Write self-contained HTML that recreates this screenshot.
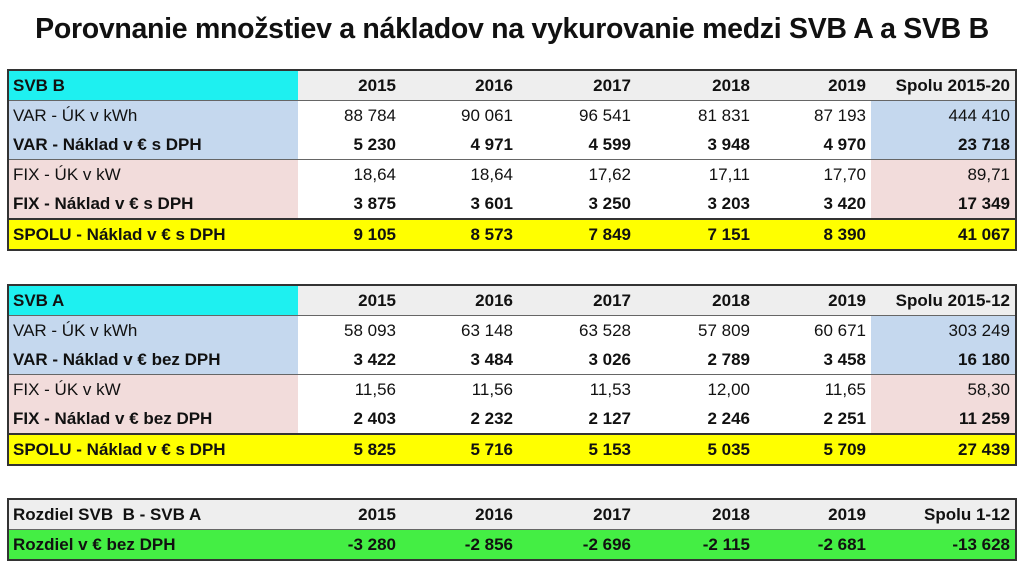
<!DOCTYPE html>
<html><head><meta charset="utf-8"><style>
body{margin:0;width:1024px;height:567px;background:#fff;font-family:"Liberation Sans",sans-serif;position:relative;overflow:hidden}
h1{position:absolute;top:13px;left:0;width:1024px;margin:0;text-align:center;font-size:28.5px;font-weight:bold;color:#111;letter-spacing:-0.3px}
table{position:absolute;left:7px;border-collapse:collapse;table-layout:fixed;border:2px solid #333;font-size:17px;color:#111}
td{height:29px;padding:0 5px 0 4px;text-align:right;white-space:nowrap;overflow:hidden}
td:first-child{text-align:left}
.h td{background:#eee;font-weight:bold;border-bottom:1px solid #666}
.h td.c{background:#1ef0f0}
.b{font-weight:bold}
.bl td:first-child,.bl td:last-child{background:#c5d8ee}
.pk td:first-child,.pk td:last-child{background:#f2dcdb}
.sep td{border-top:1px solid #666}
.y td{background:#ffff00;font-weight:bold;border-top:2px solid #333}
.g td{background:#44ee44;font-weight:bold;border-top:1px solid #666}
</style></head><body>
<h1>Porovnanie množstiev a nákladov na vykurovanie medzi SVB A a SVB B</h1>
<table style="top:69px">
<colgroup><col style="width:290px"><col style="width:103px"><col style="width:117px"><col style="width:118px"><col style="width:119px"><col style="width:116px"><col style="width:145px"></colgroup>
<tr class="h"><td class="c">SVB B</td><td>2015</td><td>2016</td><td>2017</td><td>2018</td><td>2019</td><td>Spolu 2015-20</td></tr>
<tr class="bl"><td>VAR - ÚK v kWh</td><td>88 784</td><td>90 061</td><td>96 541</td><td>81 831</td><td>87 193</td><td>444 410</td></tr>
<tr class="bl b"><td>VAR - Náklad v € s DPH</td><td>5 230</td><td>4 971</td><td>4 599</td><td>3 948</td><td>4 970</td><td>23 718</td></tr>
<tr class="pk sep"><td>FIX - ÚK v kW</td><td>18,64</td><td>18,64</td><td>17,62</td><td>17,11</td><td>17,70</td><td>89,71</td></tr>
<tr class="pk b"><td>FIX - Náklad v € s DPH</td><td>3 875</td><td>3 601</td><td>3 250</td><td>3 203</td><td>3 420</td><td>17 349</td></tr>
<tr class="y"><td>SPOLU - Náklad v € s DPH</td><td>9 105</td><td>8 573</td><td>7 849</td><td>7 151</td><td>8 390</td><td>41 067</td></tr>
</table>
<table style="top:284px">
<colgroup><col style="width:290px"><col style="width:103px"><col style="width:117px"><col style="width:118px"><col style="width:119px"><col style="width:116px"><col style="width:145px"></colgroup>
<tr class="h"><td class="c">SVB A</td><td>2015</td><td>2016</td><td>2017</td><td>2018</td><td>2019</td><td>Spolu 2015-12</td></tr>
<tr class="bl"><td>VAR - ÚK v kWh</td><td>58 093</td><td>63 148</td><td>63 528</td><td>57 809</td><td>60 671</td><td>303 249</td></tr>
<tr class="bl b"><td>VAR - Náklad v € bez DPH</td><td>3 422</td><td>3 484</td><td>3 026</td><td>2 789</td><td>3 458</td><td>16 180</td></tr>
<tr class="pk sep"><td>FIX - ÚK v kW</td><td>11,56</td><td>11,56</td><td>11,53</td><td>12,00</td><td>11,65</td><td>58,30</td></tr>
<tr class="pk b"><td>FIX - Náklad v € bez DPH</td><td>2 403</td><td>2 232</td><td>2 127</td><td>2 246</td><td>2 251</td><td>11 259</td></tr>
<tr class="y"><td>SPOLU - Náklad v € s DPH</td><td>5 825</td><td>5 716</td><td>5 153</td><td>5 035</td><td>5 709</td><td>27 439</td></tr>
</table>
<table style="top:498px">
<colgroup><col style="width:290px"><col style="width:103px"><col style="width:117px"><col style="width:118px"><col style="width:119px"><col style="width:116px"><col style="width:145px"></colgroup>
<tr class="h"><td>Rozdiel SVB&nbsp; B - SVB A</td><td>2015</td><td>2016</td><td>2017</td><td>2018</td><td>2019</td><td>Spolu 1-12</td></tr>
<tr class="g"><td>Rozdiel v € bez DPH</td><td>-3 280</td><td>-2 856</td><td>-2 696</td><td>-2 115</td><td>-2 681</td><td>-13 628</td></tr>
</table>
</body></html>
